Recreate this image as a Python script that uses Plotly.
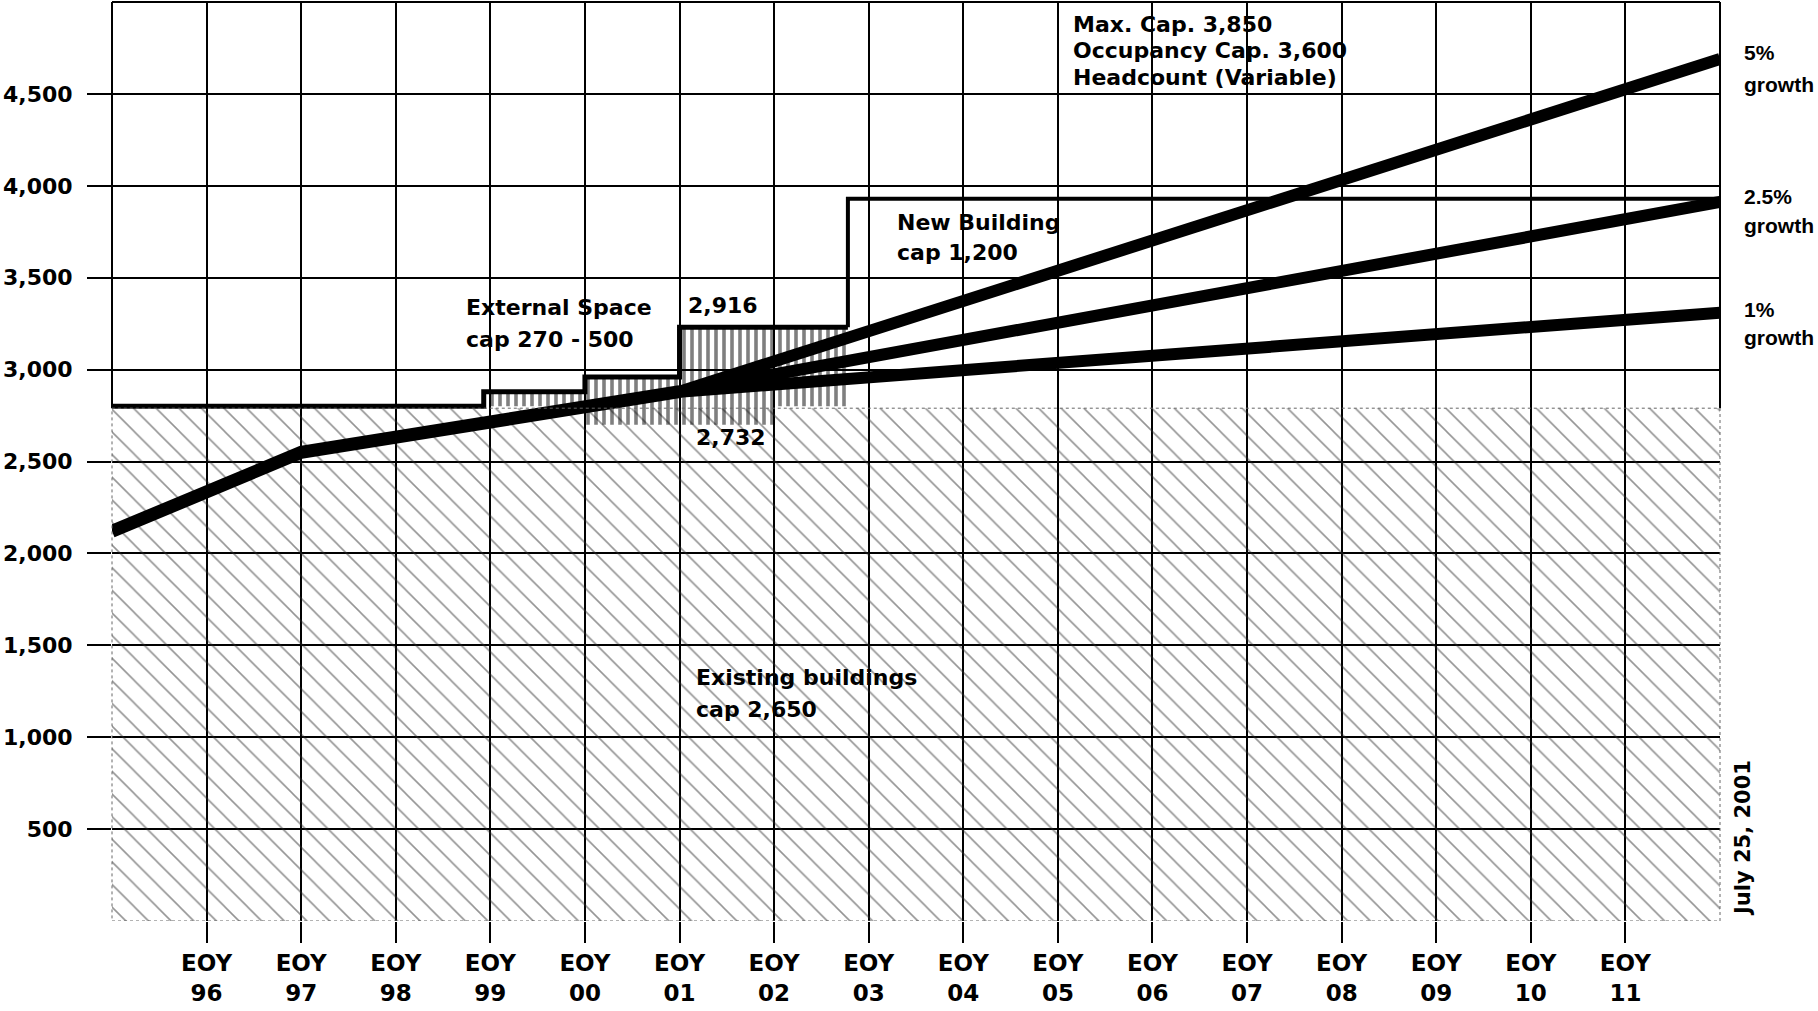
import plotly.graph_objects as go

# ---------------- data ----------------
x_range = [1995, 2012]
years = list(range(1996, 2012))
year_labels = ["EOY<br>%02d" % (y % 100) for y in years]

y_ticks = [500, 1000, 1500, 2000, 2500, 3000, 3500, 4000, 4500]
y_labels = ["500", "1,000", "1,500", "2,000", "2,500", "3,000", "3,500", "4,000", "4,500"]
y_max = 5000

# existing buildings (diagonal hatch area)
existing_x = [1995, 2012]
existing_top = [2790, 2790]

# capacity step line (existing + external space)
cap_x = [1995, 1998.93, 2000.0, 2001.0, 2002.78]
cap_y = [2800, 2880, 2960, 3230, 3230]

# external space hatch (vertical lines)
ext_x = [1998.93, 2000.0, 2001.0, 2002.0, 2002.78]
ext_top = [2880, 2960, 3230, 3230, 3230]
ext_bottom = [2800, 2700, 2700, 2800, 2800]

# new building capacity
new_x = [2002.78, 2002.78, 2012]
new_y = [3230, 3930, 3930]

# historical headcount
hist_x = [1995, 1997, 2001]
hist_y = [2120, 2550, 2880]

# projections
proj_x = [2001, 2012]
growth_5 = [2880, 4690]
growth_25 = [2880, 3912]
growth_1 = [2880, 3310]

FONT = "DejaVu Sans"
ARIAL = "Liberation Sans"

fig = go.Figure()

# existing buildings hatch
fig.add_trace(go.Scatter(
    x=existing_x, y=existing_top, mode="lines", fill="tozeroy",
    line=dict(width=0, color="rgba(0,0,0,0)"),
    fillcolor="rgba(0,0,0,0)",
    fillpattern=dict(shape="\\", size=16, solidity=0.1, fgcolor="#2a2a2a",
                     bgcolor="rgba(0,0,0,0)"),
    hoverinfo="skip", showlegend=False))

# external space vertical hatch
fig.add_trace(go.Scatter(
    x=ext_x, y=ext_bottom, mode="lines", line=dict(width=0, shape="hv", color="rgba(0,0,0,0)"),
    hoverinfo="skip", showlegend=False))
fig.add_trace(go.Scatter(
    x=ext_x, y=ext_top, mode="lines", fill="tonexty",
    line=dict(width=0, shape="hv", color="rgba(0,0,0,0)"),
    fillcolor="rgba(0,0,0,0)",
    fillpattern=dict(shape="|", size=8, solidity=0.45, fgcolor="black",
                     bgcolor="rgba(0,0,0,0)"),
    hoverinfo="skip", showlegend=False))

# capacity step line
fig.add_trace(go.Scatter(
    x=cap_x, y=cap_y, mode="lines", line=dict(width=5, shape="hv", color="black"),
    hoverinfo="skip", showlegend=False, cliponaxis=False))

# new building line
fig.add_trace(go.Scatter(
    x=new_x, y=new_y, mode="lines", line=dict(width=4, color="black"),
    hoverinfo="skip", showlegend=False))

# headcount
fig.add_trace(go.Scatter(
    x=hist_x, y=hist_y, mode="lines", line=dict(width=13, color="black"),
    hoverinfo="skip", showlegend=False))
for g in (growth_1, growth_25, growth_5):
    fig.add_trace(go.Scatter(
        x=proj_x, y=g, mode="lines", line=dict(width=12, color="black"),
        hoverinfo="skip", showlegend=False))

# borders
fig.add_shape(type="line", xref="paper", yref="paper", x0=0, x1=1, y0=1, y1=1,
              line=dict(color="black", width=2))
fig.add_shape(type="line", xref="paper", yref="y", x0=0, x1=0, y0=existing_top[0], y1=y_max,
              line=dict(color="black", width=2))
fig.add_shape(type="line", xref="paper", yref="y", x0=1, x1=1, y0=existing_top[0], y1=y_max,
              line=dict(color="black", width=2))
fig.add_shape(type="rect", xref="paper", yref="y", x0=0, x1=1, y0=0, y1=existing_top[0],
              line=dict(color="#666666", width=1, dash="dot"))

# ---- annotations (pixel positions -> paper) ----
PL, PR, PT, PB = 112, 1720, 2, 921


def px_to_paper(px, py):
    return (px - PL) / (PR - PL), (PB - py) / (PB - PT)


def add_line_text(text, px, baseline, size=22, family=FONT, weight="bold"):
    cx, cy = px_to_paper(px, baseline - 0.35 * size)
    fig.add_annotation(text=text, x=cx, y=cy, xref="paper", yref="paper",
                       xanchor="left", yanchor="middle", showarrow=False,
                       font=dict(family=family, size=size, color="black", weight=weight),
                       borderpad=0)


add_line_text("Max. Cap. 3,850", 1072, 32)
add_line_text("Occupancy Cap. 3,600", 1072, 58)
add_line_text("Headcount (Variable)", 1072, 85)
add_line_text("New Building", 896, 230)
add_line_text("cap 1,200", 896, 260)
add_line_text("External Space", 465, 315)
add_line_text("cap 270 - 500", 465, 347)
add_line_text("2,916", 687, 313)
add_line_text("2,732", 695, 445)
add_line_text("Existing buildings", 695, 685)
add_line_text("cap 2,650", 695, 717)

add_line_text("5%", 1743, 60, size=21, family=ARIAL)
add_line_text("growth", 1743, 92, size=21, family=ARIAL)
add_line_text("2.5%", 1743, 204, size=21, family=ARIAL)
add_line_text("growth", 1743, 233, size=21, family=ARIAL)
add_line_text("1%", 1743, 317, size=21, family=ARIAL)
add_line_text("growth", 1743, 345, size=21, family=ARIAL)

dx, dy = px_to_paper(1743, 838)
fig.add_annotation(text="July 25, 2001", x=dx, y=dy, xref="paper", yref="paper",
                   xanchor="center", yanchor="middle", textangle=-90, showarrow=False,
                   font=dict(family=FONT, size=21, color="black", weight="bold"))

fig.update_layout(
    width=1818, height=1011,
    margin=dict(l=PL, r=1818 - PR, t=PT, b=1011 - PB, pad=0),
    plot_bgcolor="white", paper_bgcolor="white",
    showlegend=False,
    xaxis=dict(range=x_range, tickvals=years, ticktext=year_labels,
               showgrid=True, gridcolor="black", gridwidth=2,
               ticks="outside", ticklen=21, tickwidth=2, tickcolor="black",
               tickfont=dict(family=FONT, size=23, color="black", weight="bold"),
               zeroline=False, showline=False, fixedrange=True),
    yaxis=dict(range=[0, y_max], tickvals=y_ticks, ticktext=y_labels,
               showgrid=True, gridcolor="black", gridwidth=2,
               ticks="outside", ticklen=24, tickwidth=2, tickcolor="black",
               ticklabelstandoff=10,
               tickfont=dict(family=FONT, size=22, color="black", weight="bold"),
               zeroline=False, showline=False, fixedrange=True),
)

fig.write_html(
    "out.html",
    config={"displayModeBar": False},
    post_script="document.body.style.margin='0';document.body.style.overflow='hidden';",
)
